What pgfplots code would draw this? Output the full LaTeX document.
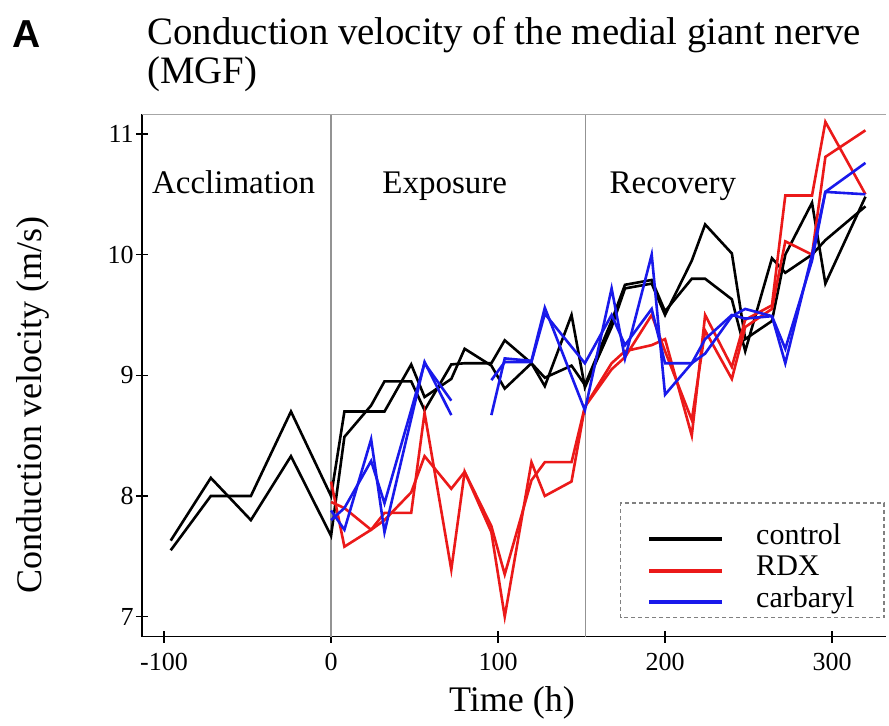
\documentclass[border=0pt]{standalone}
\usepackage{pgfplots}
\pgfplotsset{compat=1.18}
\usepackage{fontspec}
\setmainfont{Liberation Serif}
\newfontfamily\sansfont{Liberation Sans}
\definecolor{cred}{RGB}{235,25,25}
\definecolor{cblue}{RGB}{25,25,235}
\begin{document}
\begin{tikzpicture}
\useasboundingbox (-71pt,-44.65pt) rectangle (373.5pt,318.35pt);
\begin{axis}[
  at={(0pt,0pt)}, anchor=south west,
  scale only axis, width=371.75pt, height=261.2pt,
  xmin=-113.2, xmax=332, ymin=6.834, ymax=11.163,
  separate axis lines,
  axis x line*=bottom, axis y line*=left,
  axis line style={-, line width=0.75pt, black},
  xtick={-100,0,100,200,300}, ytick={7,8,9,10,11},
  tick align=center, major tick length=6pt,
  tick style={black, line width=0.6pt},
  /pgf/number format/assume math mode=true,
  ticklabel style={font=\fontsize{13}{13}\selectfont},
  xticklabel style={inner sep=0pt, anchor=north, yshift=-5pt},
  yticklabel style={inner sep=0pt, anchor=east, xshift=-1pt},
  xlabel={Time (h)}, ylabel={Conduction velocity (m/s)},
  label style={font=\fontsize{18}{18}\selectfont},
  xlabel style={at={(axis description cs:0.4977,-0.144)}, anchor=base},
  ylabel style={at={(axis description cs:-0.1345,0.4435)}, anchor=base, rotate=0},
  legend style={draw=none, fill=none, at={(0.679,0.218)}, anchor=north west,
    inner sep=0pt, font=\fontsize{15}{15}\selectfont,
    nodes={inner sep=0pt, text height=10.5pt, text depth=5.3pt},
    /tikz/every odd column/.append style={column sep=16pt}},
  legend cell align=left,
  legend image code/.code={\draw[solid, line width=2pt] (0pt,0pt) -- (36.5pt,0pt);},
  every axis plot/.append style={line width=1.3pt, line join=miter},
  clip=false,
]
% separators
\addplot[forget plot, gray!85, line width=0.6pt] coordinates {(0,6.834) (0,11.163)};
\addplot[forget plot, gray!85, line width=0.6pt] coordinates {(152.5,6.834) (152.5,11.163)};
\addplot[forget plot, gray!70, line width=0.75pt] coordinates {(-113.2,11.163) (332,11.163)};

% control
\addplot[black] coordinates {
(-96,7.55) (-72,8.00) (-48,8.00) (-24,8.70) (0,8.00) (8,8.70) (24,8.70) (32,8.70)
(48,9.09) (56,8.82) (72,8.97) (80,9.22) (96,9.08) (104,8.89) (120,9.10) (128,8.98)
(144,9.08) (152,8.92) (168,9.45) (176,9.75) (192,9.79) (200,9.53) (216,9.80) (224,9.80)
(240,9.63) (248,9.20) (264,9.97) (272,9.85) (288,10.00) (296,10.12) (320,10.40)};
\addlegendentry{control}
\addplot[black, forget plot] coordinates {
(-96,7.63) (-72,8.15) (-48,7.80) (-24,8.33) (0,7.67) (8,8.49) (24,8.75) (32,8.95)
(48,8.95) (56,8.71) (72,9.09) (80,9.10) (96,9.10) (104,9.29) (120,9.10) (128,8.91)
(144,9.50) (152,8.90) (168,9.40) (176,9.72) (192,9.76) (200,9.50) (216,9.95) (224,10.25)
(240,10.01) (248,9.30) (264,9.45) (272,10.00) (288,10.43) (296,9.76) (320,10.48)};

% RDX
\addplot[cred] coordinates {
(0,8.12) (8,7.58) (24,7.72) (32,7.86) (48,7.86) (56,8.69) (72,7.39) (80,8.20)
(96,7.70) (104,7.00) (120,8.28) (128,8.00) (144,8.12) (152,8.74) (168,9.10) (176,9.20)
(192,9.25) (200,9.30) (216,8.50) (224,9.50) (240,9.07) (248,9.46) (264,9.58) (272,10.49)
(288,10.49) (296,11.10) (320,10.50)};
\addlegendentry{RDX}
\addplot[cred, forget plot] coordinates {
(0,7.95) (8,7.90) (24,7.72) (32,7.80) (48,8.03) (56,8.33) (72,8.06) (80,8.20)
(96,7.75) (104,7.35) (120,8.13) (128,8.28) (144,8.28) (152,8.74) (168,9.05) (176,9.15)
(192,9.50) (200,9.20) (216,8.63) (224,9.37) (240,8.97) (248,9.40) (264,9.55) (272,10.11)
(288,10.00) (296,10.81) (320,11.03)};

% carbaryl
\addplot[cblue] coordinates {
(0,7.88) (8,7.72) (24,8.47) (32,7.70) (56,9.11) (72,8.67)};
\addlegendentry{carbaryl}
\addplot[cblue, forget plot] coordinates {
(0,7.80) (8,7.90) (24,8.29) (32,7.94) (56,9.10) (72,8.79)};
\addplot[cblue, forget plot] coordinates {
(96,8.67) (104,9.14) (120,9.12) (128,9.56) (152,8.71) (168,9.72) (176,9.14) (192,10.00)
(200,8.84) (216,9.10) (224,9.18) (240,9.49) (248,9.55) (264,9.49) (272,9.10) (288,10.00)
(296,10.52) (320,10.50)};
\addplot[cblue, forget plot] coordinates {
(96,8.96) (104,9.11) (120,9.11) (128,9.51) (152,9.10) (168,9.50) (176,9.25) (192,9.55)
(200,9.10) (216,9.10) (224,9.30) (240,9.50) (248,9.47) (264,9.49) (272,9.22) (288,9.95)
(296,10.52) (320,10.76)};

% phase labels
\node[anchor=base west, font=\fontsize{16.5}{16.5}\selectfont, inner sep=0pt] at (axis cs:-107.4,10.503) {Acclimation};
\node[anchor=base west, font=\fontsize{16.5}{16.5}\selectfont, inner sep=0pt] at (axis cs:30.5,10.503) {Exposure};
\node[anchor=base west, font=\fontsize{16.5}{16.5}\selectfont, inner sep=0pt] at (axis cs:166.6,10.503) {Recovery};

% legend frame
\draw[gray, line width=0.6pt, dash pattern=on 2pt off 1.5pt] (rel axis cs:0.644,0.036) rectangle (rel axis cs:0.998,0.256);
\end{axis}
\node[anchor=base west, inner sep=0pt, font=\sansfont\bfseries\fontsize{19.5}{19.5}\selectfont] at (-65pt,294.35pt) {A};
\node[anchor=base west, inner sep=0pt, font=\fontsize{19.4}{19.4}\selectfont] at (2.5pt,295.85pt) {Conduction velocity of the medial giant nerve};
\node[anchor=base west, inner sep=0pt, font=\fontsize{19.4}{19.4}\selectfont] at (2.5pt,276.35pt) {(MGF)};
\end{tikzpicture}
\end{document}
